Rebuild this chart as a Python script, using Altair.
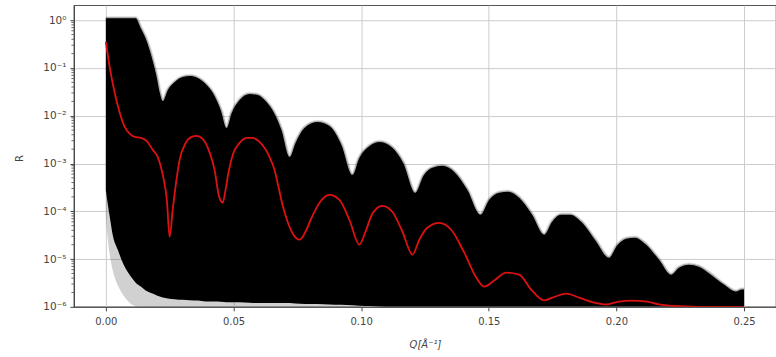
import altair as alt
import pandas as pd

# ---- upper / lower envelope of the ensemble of black curves ----
Q_env = [0.0, 0.0008, 0.0016, 0.0027, 0.0047, 0.0070, 0.0098, 0.0117, 0.0137, 0.0156,
         0.0172, 0.0188, 0.0200, 0.0211, 0.0223, 0.0243, 0.0270, 0.0301, 0.0329, 0.0360,
         0.0391, 0.0422, 0.0450, 0.0473, 0.0493, 0.0524, 0.0563, 0.0595, 0.0626, 0.0657,
         0.0688, 0.0720, 0.0743, 0.0778, 0.0829, 0.0876, 0.0923, 0.0966, 0.0993, 0.1033,
         0.1072, 0.1119, 0.1165, 0.1212, 0.1244, 0.1279, 0.1318, 0.1365, 0.1416, 0.1467,
         0.1502, 0.1541, 0.1576, 0.1619, 0.1670, 0.1717, 0.1748, 0.1783, 0.1819, 0.1862,
         0.1916, 0.1971, 0.2002, 0.2038, 0.2073, 0.2112, 0.2167, 0.2214, 0.2245, 0.2284,
         0.2323, 0.2370, 0.2421, 0.2468, 0.2491, 0.2500]
R_upper = [1.10, 1.10, 1.10, 1.10, 1.10, 1.10, 1.10, 1.10, 0.68, 0.42,
           0.236, 0.115, 0.062, 0.031, 0.0203, 0.0345, 0.0507, 0.0645, 0.0677, 0.0615,
           0.0461, 0.0285, 0.0132, 0.00555, 0.0114, 0.0213, 0.0285, 0.0271, 0.0203, 0.0120,
           0.00504, 0.00138, 0.0027, 0.00555, 0.00741, 0.00611, 0.00245, 5.79e-4, 0.00131, 0.00233,
           0.00283, 0.00223, 0.00103, 2.44e-4, 5.52e-4, 8.11e-4, 8.93e-4, 6.68e-4, 2.81e-4, 8.46e-5,
           1.74e-4, 2.44e-4, 2.56e-4, 1.92e-4, 8.46e-5, 3.24e-5, 6.04e-5, 8.46e-5, 8.46e-5, 6.04e-5,
           2.54e-5, 1.07e-5, 1.90e-5, 2.67e-5, 2.80e-5, 2.10e-5, 9.71e-6, 4.72e-6, 6.61e-6, 7.64e-6,
           6.93e-6, 4.72e-6, 2.92e-6, 2.09e-6, 2.30e-6, 2.30e-6]
R_lower = [2.8e-4, 1.37e-4, 7.3e-5, 3.2e-5, 1.57e-5, 7.6e-6, 4.3e-6, 3.2e-6, 2.65e-6, 2.2e-6,
           2.0e-6, 1.85e-6, 1.72e-6, 1.65e-6, 1.57e-6, 1.5e-6, 1.45e-6, 1.4e-6, 1.38e-6, 1.35e-6,
           1.3e-6, 1.3e-6, 1.28e-6, 1.25e-6, 1.25e-6, 1.25e-6, 1.22e-6, 1.2e-6, 1.2e-6, 1.2e-6,
           1.2e-6, 1.2e-6, 1.18e-6, 1.15e-6, 1.15e-6, 1.12e-6, 1.1e-6, 1.08e-6, 1.06e-6, 1.04e-6,
           1.02e-6, 1.0e-6, 1.0e-6, 1.0e-6, 1.0e-6, 1.0e-6, 1.0e-6, 1.0e-6, 1.0e-6, 1.0e-6,
           1.0e-6, 1.0e-6, 1.0e-6, 1.0e-6, 1.0e-6, 1.0e-6, 1.0e-6, 1.0e-6, 1.0e-6, 1.0e-6,
           1.0e-6, 1.0e-6, 1.0e-6, 1.0e-6, 1.0e-6, 1.0e-6, 1.0e-6, 1.0e-6, 1.0e-6, 1.0e-6,
           1.0e-6, 1.0e-6, 1.0e-6, 1.0e-6, 1.0e-6, 1.0e-6]

# ---- faint spread of curves below the solid mass at low Q ----
Q_fuzz = [0.0, 0.0008, 0.0020, 0.0035, 0.0055, 0.0078, 0.0102, 0.0133, 0.0200, 0.0500, 0.0800, 0.1000]
R_fuzz_top = [2e-3, 2e-3, 2e-3, 2e-3, 2e-3, 2e-3, 2e-3, 2e-3, 2.2e-6, 2.2e-6, 2.0e-6, 1.6e-6]
R_fuzz_bottom = [8.5e-5, 2.5e-5, 8.8e-6, 4.1e-6, 2.3e-6, 1.5e-6, 1.12e-6, 1.0e-6, 1.0e-6, 1.0e-6, 1.0e-6, 1.0e-6]

# ---- red curve ----
Q_red = [0.0, 0.0016, 0.0035, 0.0055, 0.0074, 0.0094, 0.0113, 0.0137, 0.0160, 0.0184,
         0.0203, 0.0223, 0.0239, 0.0250, 0.0262, 0.0274, 0.0289, 0.0313, 0.0336, 0.0356,
         0.0379, 0.0407, 0.0426, 0.0442, 0.0450, 0.0458, 0.0469, 0.0481, 0.0497, 0.0524,
         0.0555, 0.0575, 0.0602, 0.0641, 0.0661, 0.0677, 0.0692, 0.0712, 0.0735, 0.0759,
         0.0782, 0.0806, 0.0837, 0.0876, 0.0915, 0.0954, 0.0993, 0.1017, 0.1044, 0.1083,
         0.1122, 0.1162, 0.1201, 0.1228, 0.1259, 0.1306, 0.1353, 0.1404, 0.1451, 0.1482,
         0.1521, 0.1568, 0.1619, 0.1666, 0.1717, 0.1760, 0.1803, 0.1854, 0.1912, 0.1959,
         0.2010, 0.2061, 0.2120, 0.2167, 0.2225, 0.2323, 0.2500]
R_red = [0.352, 0.098, 0.0299, 0.01125, 0.00582, 0.00416, 0.0036, 0.00343, 0.00297, 0.00193,
         0.00138, 5.79e-4, 1.74e-4, 2.94e-5, 1.08e-4, 3.58e-4, 0.00119, 0.0027, 0.0036, 0.00378,
         0.00327, 0.00167, 7.36e-4, 2.21e-4, 1.66e-4, 1.51e-4, 2.81e-4, 6.68e-4, 0.00151, 0.0027,
         0.00343, 0.00343, 0.00283, 0.00138, 7.36e-4, 3.10e-4, 1.37e-4, 6.04e-5, 3.24e-5, 2.54e-5,
         3.73e-5, 7.33e-5, 1.51e-4, 2.21e-4, 1.74e-4, 6.65e-5, 2.00e-5, 3.73e-5, 8.87e-5, 1.30e-4,
         9.77e-5, 3.73e-5, 1.24e-5, 2.54e-5, 4.53e-5, 5.75e-5, 4.11e-5, 1.36e-5, 4.09e-6, 2.65e-6,
         3.54e-6, 5.20e-6, 4.72e-6, 2.30e-6, 1.37e-6, 1.64e-6, 1.89e-6, 1.56e-6, 1.23e-6, 1.12e-6,
         1.29e-6, 1.35e-6, 1.29e-6, 1.12e-6, 1.04e-6, 1.0e-6, 1.0e-6]

# ---- axes ----
x_ticks = [0.0, 0.05, 0.10, 0.15, 0.20, 0.25]
y_ticks = [1e-6, 1e-5, 1e-4, 1e-3, 1e-2, 1e-1, 1.0]
y_labels = ['10⁻⁶', '10⁻⁵', '10⁻⁴', '10⁻³', '10⁻²', '10⁻¹', '10⁰']
minor_mult = [2, 3, 4, 5, 6, 7, 8, 9]
y_minor = [m * d for d in y_ticks[:-1] for m in minor_mult]

env = pd.DataFrame({"Q": Q_env, "up": R_upper, "low": R_lower})
fuzz = pd.DataFrame({"Q": Q_fuzz, "top": R_fuzz_top, "bot": R_fuzz_bottom})
red = pd.DataFrame({"Q": Q_red, "R": R_red})
minor = pd.DataFrame({"v": y_minor})

FONT = "DejaVu Sans"
label_expr = "[" + ",".join("'%s'" % s for s in y_labels) + "][round(log(datum.value)/LN10)+6]"

xs = alt.Scale(domain=[-0.0125, 0.2625], nice=False, zero=False)
ys = alt.Scale(type="log", domain=[1e-6, 2.06], nice=False)

x_axis = alt.Axis(values=x_ticks, format=".2f", title="Q[Å⁻¹]", titleFontStyle="italic",
                  titleFontWeight="normal", titleFontSize=10, titleX=351.5, titleY=38,
                  titleBaseline="middle", titleAlign="center", labelFontSize=10,
                  tickSize=4, labelPadding=6, grid=True)
y_axis = alt.Axis(values=y_ticks, labelExpr=label_expr, title="R", titleFontWeight="normal",
                  titleFontSize=10, titleX=-54, titleY=153, titleAngle=-90,
                  titleBaseline="middle", titleAlign="center", labelFontSize=10.5,
                  tickSize=4, labelPadding=4, grid=True)

base = alt.Chart(env)

fuzz_layer = alt.Chart(fuzz).mark_area(color="black", opacity=0.18, interpolate="monotone", clip=True).encode(
    x=alt.X("Q:Q", scale=xs, axis=x_axis),
    y=alt.Y("top:Q", scale=ys, axis=y_axis),
    y2="bot:Q",
)

mass = base.mark_area(color="black", interpolate="monotone", clip=True).encode(
    x=alt.X("Q:Q", scale=xs),
    y=alt.Y("up:Q", scale=ys),
    y2="low:Q",
)

halo_wide = base.mark_line(color="black", strokeWidth=4.5, opacity=0.1, interpolate="monotone", clip=True).encode(
    x=alt.X("Q:Q", scale=xs),
    y=alt.Y("up:Q", scale=ys),
)

halo = base.mark_line(color="black", strokeWidth=2.5, opacity=0.25, interpolate="monotone", clip=True).encode(
    x=alt.X("Q:Q", scale=xs),
    y=alt.Y("up:Q", scale=ys),
)

minor_ticks = alt.Chart(minor).mark_rule(color="#444", strokeWidth=0.8).encode(
    x=alt.value(-2.5),
    x2=alt.value(0),
    y=alt.Y("v:Q", scale=ys),
)

red_line = alt.Chart(red).mark_line(color="#dd1111", strokeWidth=1.8, interpolate="monotone", clip=True).encode(
    x=alt.X("Q:Q", scale=xs),
    y=alt.Y("R:Q", scale=ys),
)

chart = alt.layer(fuzz_layer, mass, halo_wide, halo, red_line, minor_ticks).properties(
    width=703, height=302,
    autosize=alt.AutoSizeParams(type="none"),
    padding={"left": 74, "top": 5, "right": 0, "bottom": 50},
).configure(
    font=FONT,
).configure_view(
    stroke="#555", strokeWidth=1.2,
).configure_axis(
    labelFont=FONT, titleFont=FONT, labelColor="#444", titleColor="#444",
    tickColor="#444", domainColor="#444", gridColor="#cccccc", gridWidth=1,
)

chart.save("out.html", embed_options={"renderer": "svg", "actions": False})
